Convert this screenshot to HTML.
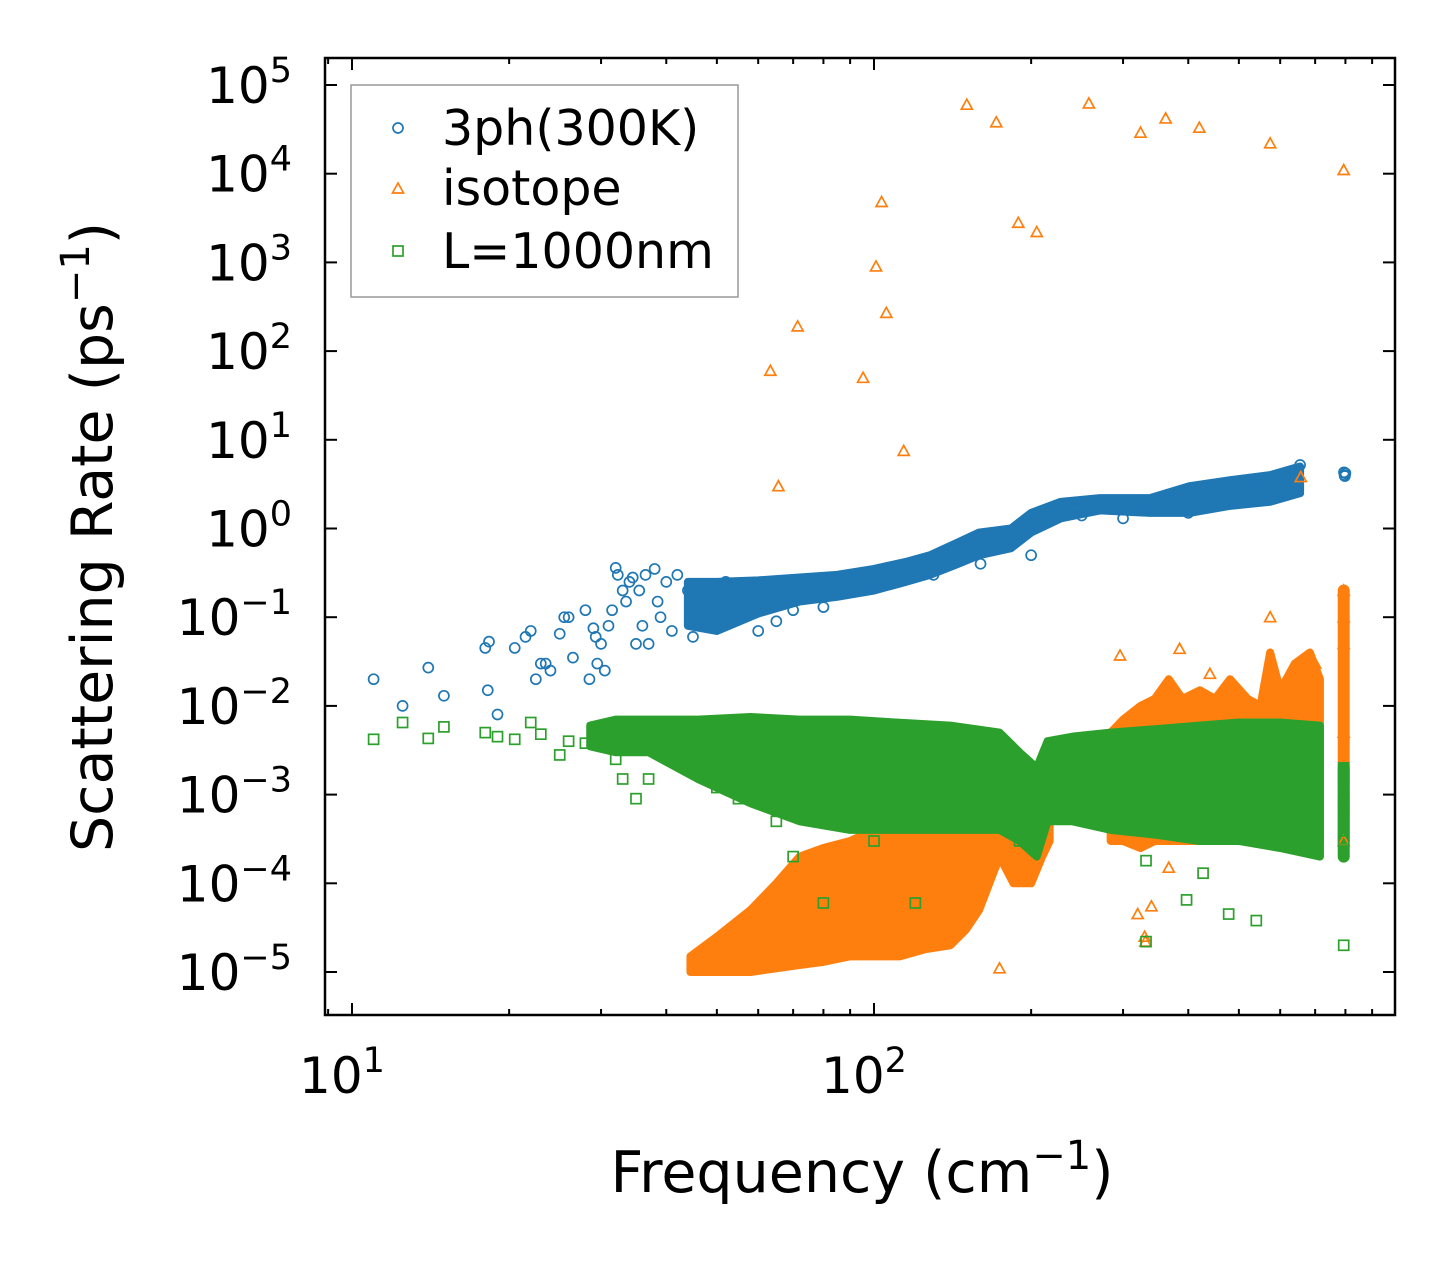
<!DOCTYPE html>
<html><head><meta charset="utf-8"><style>
html,body{margin:0;padding:0;background:#fff;}
svg{display:block;font-family:"DejaVu Sans","Liberation Sans",sans-serif;}
</style></head><body>
<svg id="chart" width="1455" height="1265" viewBox="0 0 1455 1265">
<g id="bands"></g>
<g id="marks"></g>
<g id="axes"></g>
</svg>
<script>
// ---- data ----
const blueFreq=[11,12.5,14,15,18,18.3,18.2,19,20.5,21.5,22,22.5,23,23.5,24,25,25.5,26,26.5,28,28.5,29,29.3,29.5,30,30.5,31,31.5,32,32.3,33,33.5,34,34.5,35,35.5,36,36.5,37,38,38.5,39,40,41,42,44,45,47,50,52,55,60,65,70,80,90,100,130,160,200,250,300,330,400,480,540,600,655,795,797,800,798];
const blueRate=[0.02,0.01,0.027,0.013,0.045,0.053,0.015,0.008,0.045,0.06,0.07,0.02,0.03,0.03,0.025,0.065,0.1,0.1,0.035,0.12,0.02,0.075,0.06,0.03,0.05,0.025,0.08,0.12,0.36,0.3,0.2,0.15,0.25,0.28,0.05,0.2,0.08,0.3,0.05,0.35,0.15,0.1,0.25,0.07,0.3,0.2,0.06,0.1,0.12,0.25,0.1,0.07,0.09,0.12,0.13,0.2,0.22,0.3,0.4,0.5,1.4,1.3,1.6,1.5,2,3,2.5,5.2,4.3,4,4.2,3.9];
const blueBandF=[44,50,60,72,85,100,115,128,145,159,183,200,228,271,338,402,481,574,655];
const blueBandLo=[0.08,0.07,0.11,0.15,0.17,0.2,0.25,0.3,0.4,0.5,0.6,0.9,1.3,1.6,1.5,1.5,1.8,2,2.5];
const blueBandHi=[0.25,0.25,0.26,0.28,0.3,0.35,0.42,0.5,0.7,0.9,1.0,1.5,2.0,2.2,2.2,3,3.5,4,5];

const orFreq=[63.3,65.6,71.4,95.3,100.9,103.4,105.6,114,150.6,171.5,189,205,258,324,362,420,574,657,794,174,330,331,320,296,385,440,574,700,794,794,794,794,794,367,340];
const orRate=[60,3,190,50,900,4800,270,7.5,60000,38000,2800,2200,62000,29000,42000,33000,22000,3.8,11000,1.1e-5,2.5e-5,2.2e-5,4.5e-5,0.037,0.044,0.023,0.1,0.03,0.2,0.1,0.05,0.0003,0.005,1.5e-4,5.5e-5];
const orBandF=[44.5,50,58,65,72,80,90,100,112,125,140,150,159,174,185,200,210,217];
const orBandLo=[1e-5,1e-5,1e-5,1.1e-5,1.2e-5,1.3e-5,1.5e-5,1.5e-5,1.5e-5,1.8e-5,2e-5,3e-5,5e-5,2e-4,1e-4,1e-4,2e-4,3e-4];
const orBandHi=[1.5e-5,2.5e-5,5e-5,1e-4,2e-4,2.5e-4,3e-4,4e-4,5e-4,6e-4,8e-4,9e-4,1e-3,1e-3,1e-3,1e-3,1e-3,1e-3];
const orBand2F=[284,300,324,345,367,390,421,450,481,520,550,574,600,640,684,715];
const orBand2Lo=[3e-4,3e-4,2.5e-4,3e-4,3e-4,3e-4,3e-4,3e-4,3e-4,3e-4,3e-4,3e-4,3e-4,3e-4,3e-4,3e-4];
const orBand2Hi=[0.005,0.007,0.01,0.012,0.02,0.012,0.015,0.012,0.02,0.012,0.01,0.04,0.015,0.03,0.04,0.02];
const orColF=[794,794];
const orColR=[3e-4,0.2];

const grFreq=[11,12.5,14,15,18,19,20.5,22,23,25,26,28,30,31,32,33,35,37,40,45,48,50,55,60,65,70,80,100,120,160,190,240,300,332,332,397,427,478,540,794,794,794,794,794];
const grRate=[0.0042,0.0065,0.0043,0.0058,0.005,0.0045,0.0042,0.0065,0.0048,0.0028,0.004,0.0038,0.005,0.004,0.0025,0.0015,0.0009,0.0015,0.0055,0.0035,0.0015,0.0012,0.0009,0.0065,0.0005,0.0002,0.00006,0.0003,0.00006,0.0006,0.0003,0.0009,0.0005,0.00018,2.2e-5,6.5e-5,1.3e-4,4.5e-5,3.8e-5,2e-5,0.0003,0.0008,0.0015,0.002];
const grBandF=[28.6,32,37,46,58,72,90,110,140,174,190,205,215,240,284,350,420,500,600,715];
const grBandLo=[3.5e-3,3e-3,3e-3,1.5e-3,8e-4,5e-4,4e-4,4e-4,4e-4,4e-4,3e-4,2e-4,5e-4,5e-4,4e-4,3.5e-4,3e-4,3e-4,2.5e-4,2e-4];
const grBandHi=[6e-3,7e-3,7e-3,7e-3,7.5e-3,7e-3,7e-3,6.5e-3,6e-3,5e-3,3e-3,2e-3,4e-3,4.5e-3,5e-3,5.5e-3,6e-3,6.5e-3,6.5e-3,6e-3];
const grColF=[794,794];
const grColR=[2e-4,2e-3];

const xTickVals=[10,100];
const xTickLabels=["1","2"];
const yTickExps=[5,4,3,2,1,0,-1,-2,-3,-4,-5];

// ---- scales ----
const X0=325,X1=1395,Y0=58,Y1=1015;
const xs=f=>352+522*Math.log10(f/10);
const ys=r=>85+88.7*(5-Math.log10(r));
const NS="http://www.w3.org/2000/svg";
function mk(tag,attrs,parent){const e=document.createElementNS(NS,tag);for(const k in attrs)e.setAttribute(k,attrs[k]);parent.appendChild(e);return e;}
const bands=document.getElementById('bands'),marks=document.getElementById('marks'),axes=document.getElementById('axes');
const C={b:'#1f77b4',o:'#ff7f0e',g:'#2ca02c'};

function band(F,Lo,Hi,col,name,sw){
  let pts=F.map((f,i)=>xs(f)+','+ys(Hi[i]));
  for(let i=F.length-1;i>=0;i--)pts.push(xs(F[i])+','+ys(Lo[i]));
  const p=mk('polygon',{points:pts.join(' '),fill:col,stroke:col,'stroke-width':sw||8,'stroke-linejoin':'round'},bands);
  
  
}
function pts(F,R,col,shape,name){
  const g=mk('g',{},marks);
  
  
  F.forEach((f,i)=>{
    const x=xs(f),y=ys(R[i]);let e;
    if(shape==='c')e=mk('circle',{cx:x,cy:y,r:5,fill:'none',stroke:col,'stroke-width':1.7},g);
    else if(shape==='t')e=mk('polygon',{points:`${x},${y-5.5} ${x-5.5},${y+4.5} ${x+5.5},${y+4.5}`,fill:'none',stroke:col,'stroke-width':1.7},g);
    else e=mk('rect',{x:x-5,y:y-5,width:10,height:10,fill:'none',stroke:col,'stroke-width':1.7},g);
    
    
  });
}
// blue
band(blueBandF,blueBandLo,blueBandHi,C.b,'3ph-band');
pts(blueFreq,blueRate,C.b,'c','3ph-series');
// orange
band(orBandF,orBandLo,orBandHi,C.o,'isotope-band-low');
band(orBand2F,orBand2Lo,orBand2Hi,C.o,'isotope-band-high');
band(orColF,orColR,orColR,C.o,'isotope-column',12);
pts(orFreq,orRate,C.o,'t','isotope-series');
// green
band(grBandF,grBandLo,grBandHi,C.g,'boundary-band');
band(grColF,grColR,grColR,C.g,'boundary-column',12);
pts(grFreq,grRate,C.g,'s','boundary-series');

// axes frame
const fr=mk('rect',{x:X0,y:Y0,width:X1-X0,height:Y1-Y0,fill:'none',stroke:'#000','stroke-width':2.5},axes);


for(let d=0;d<=2;d++)for(let m=1;m<10;m++){
  const f=m*Math.pow(10,d);const x=xs(f);if(x<X0||x>X1)continue;
  const L=m===1?12:6;
  mk('line',{x1:x,y1:Y1,x2:x,y2:Y1-L,stroke:'#000','stroke-width':2},axes);
  mk('line',{x1:x,y1:Y0,x2:x,y2:Y0+L,stroke:'#000','stroke-width':2},axes);
}
xTickVals.forEach((v,i)=>{
  const t=mk('text',{x:xs(v)-10,y:1093,'font-size':50,'text-anchor':'middle'},axes);
  t.innerHTML='10<tspan dy="-21" font-size="35">'+xTickLabels[i]+'</tspan>';
  
  
});
yTickExps.forEach(e=>{
  const y=ys(Math.pow(10,e));
  mk('line',{x1:X0,y1:y,x2:X0+12,y2:y,stroke:'#000','stroke-width':2},axes);
  mk('line',{x1:X1,y1:y,x2:X1-12,y2:y,stroke:'#000','stroke-width':2},axes);
  const t=mk('text',{x:292,y:y+18,'font-size':50,'text-anchor':'end'},axes);
  t.innerHTML='10<tspan dy="-21" font-size="35">'+(e<0?'\u2212'+(-e):e)+'</tspan>';
  
  
});
</script>
<svg style="position:absolute;left:0;top:0" width="1455" height="1265">
<text x="862" y="1192" font-size="57" text-anchor="middle" font-family="DejaVu Sans,Liberation Sans,sans-serif">Frequency (cm<tspan dy="-23" font-size="40">−1</tspan><tspan dy="23">)</tspan></text>
<text transform="translate(112,537) rotate(-90)" font-size="57" text-anchor="middle" font-family="DejaVu Sans,Liberation Sans,sans-serif">Scattering Rate (ps<tspan dy="-23" font-size="40">−1</tspan><tspan dy="23">)</tspan></text>
<g>
<rect x="351" y="85" width="387" height="212" fill="#fff" fill-opacity="0.85" stroke="#999" stroke-width="1.5"/>
<circle cx="398" cy="128" r="5" fill="none" stroke="#1f77b4" stroke-width="1.7"/>
<text x="442" y="145" font-size="49" font-family="DejaVu Sans,Liberation Sans,sans-serif">3ph(300K)</text>
<polygon points="398,183 392.5,193 403.5,193" fill="none" stroke="#ff7f0e" stroke-width="1.7"/>
<text x="442" y="205" font-size="49" font-family="DejaVu Sans,Liberation Sans,sans-serif">isotope</text>
<rect x="393" y="246" width="10" height="10" fill="none" stroke="#2ca02c" stroke-width="1.7"/>
<text x="442" y="268" font-size="49" font-family="DejaVu Sans,Liberation Sans,sans-serif">L=1000nm</text>
</g>
</svg>
</body></html>
